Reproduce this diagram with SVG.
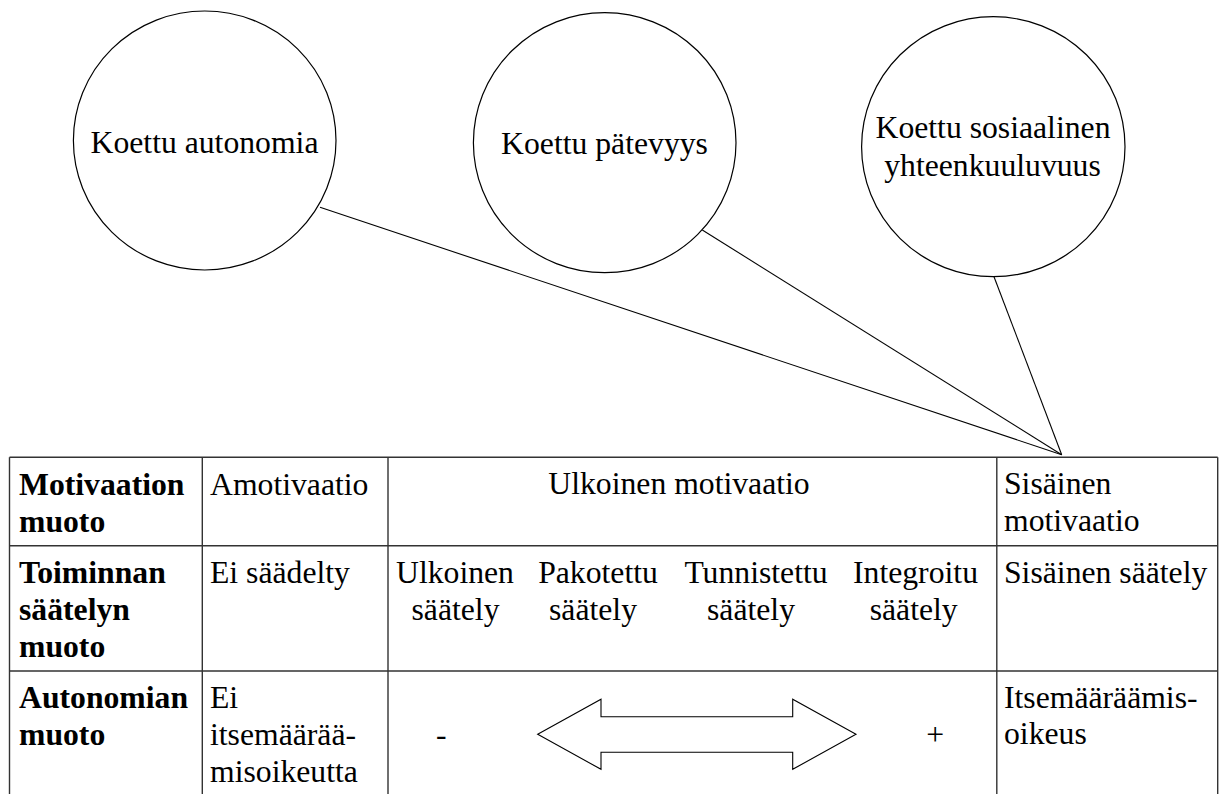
<svg xmlns="http://www.w3.org/2000/svg" width="1219" height="794" viewBox="0 0 1219 794">
<style>
.t{font-size:31.7px;fill:#000}
.b{font-weight:bold}
.m{text-anchor:middle}
.node{fill:#fff;stroke:#000;stroke-width:1.2}
.conn{stroke:#000;stroke-width:1.1;fill:none}
.grid{stroke:#333;stroke-width:1.4;fill:none}
</style>
<rect width="1219" height="794" fill="#fff"/>
<g id="connectors">
<line class="conn" x1="320" y1="207.3" x2="1061.7" y2="454.7"/>
<line class="conn" x1="702.3" y1="230" x2="1061.7" y2="454.7"/>
<line class="conn" x1="994" y1="276.7" x2="1061.7" y2="454.7"/>
</g>
<g font-family="Liberation Serif, Tinos, Times New Roman, Noto Serif, DejaVu Serif, serif">
<g id="node-autonomia">
<ellipse class="node" cx="204.7" cy="140.5" rx="131.3" ry="129.5"/>
<text class="t m" x="204.5" y="153">Koettu autonomia</text>
</g>
<g id="node-patevyys">
<ellipse class="node" cx="604.7" cy="142.7" rx="131.3" ry="130"/>
<text class="t m" x="604.5" y="154">Koettu pätevyys</text>
</g>
<g id="node-yhteenkuuluvuus">
<ellipse class="node" cx="993.3" cy="146.7" rx="131.7" ry="130"/>
<text class="t m" x="993" y="138.3">Koettu sosiaalinen</text>
<text class="t m" x="992.5" y="175.7">yhteenkuuluvuus</text>
</g>
<g id="table">
<path class="grid" d="M9.5 457.3H1217.7M9.5 545.7H1217.7M9.5 671H1217.7M9.5 457.3V794M202.3 457.3V794M388 457.3V794M996.8 457.3V794M1217.7 457.3V794"/>
<text class="t b" x="19" y="495">Motivaation</text>
<text class="t b" x="19" y="531.7">muoto</text>
<text class="t b" x="19" y="583.3">Toiminnan</text>
<text class="t b" x="19" y="620">säätelyn</text>
<text class="t b" x="19" y="656.5">muoto</text>
<text class="t b" x="19" y="708.3">Autonomian</text>
<text class="t b" x="19" y="745">muoto</text>
<text class="t" x="210" y="495">Amotivaatio</text>
<text class="t" x="210" y="583.3">Ei säädelty</text>
<text class="t" x="210" y="708.3">Ei</text>
<text class="t" x="210" y="745">itsemäärää-</text>
<text class="t" x="210" y="781.7">misoikeutta</text>
<text class="t m" x="679" y="494.3">Ulkoinen motivaatio</text>
<text class="t m" x="455" y="583.3">Ulkoinen</text>
<text class="t m" x="455.5" y="620">säätely</text>
<text class="t m" x="598" y="583.3">Pakotettu</text>
<text class="t m" x="593" y="620">säätely</text>
<text class="t m" x="756" y="583.3">Tunnistettu</text>
<text class="t m" x="751" y="620">säätely</text>
<text class="t m" x="915.5" y="583.3">Integroitu</text>
<text class="t m" x="913.7" y="620">säätely</text>
<text class="t m" x="441.2" y="745">-</text>
<text class="t m" x="935.3" y="745">+</text>
<polygon class="conn" points="537.7,734.3 601,699.3 601,716.7 792.7,716.7 792.7,699.3 856,734.3 792.7,769.3 792.7,752.3 601,752.3 601,769.3"/>
<text class="t" x="1004" y="494.3">Sisäinen</text>
<text class="t" x="1004" y="530.7">motivaatio</text>
<text class="t" x="1004" y="583.3">Sisäinen säätely</text>
<text class="t" x="1004" y="708.3">Itsemääräämis-</text>
<text class="t" x="1004" y="744">oikeus</text>
</g>
</g>
</svg>
